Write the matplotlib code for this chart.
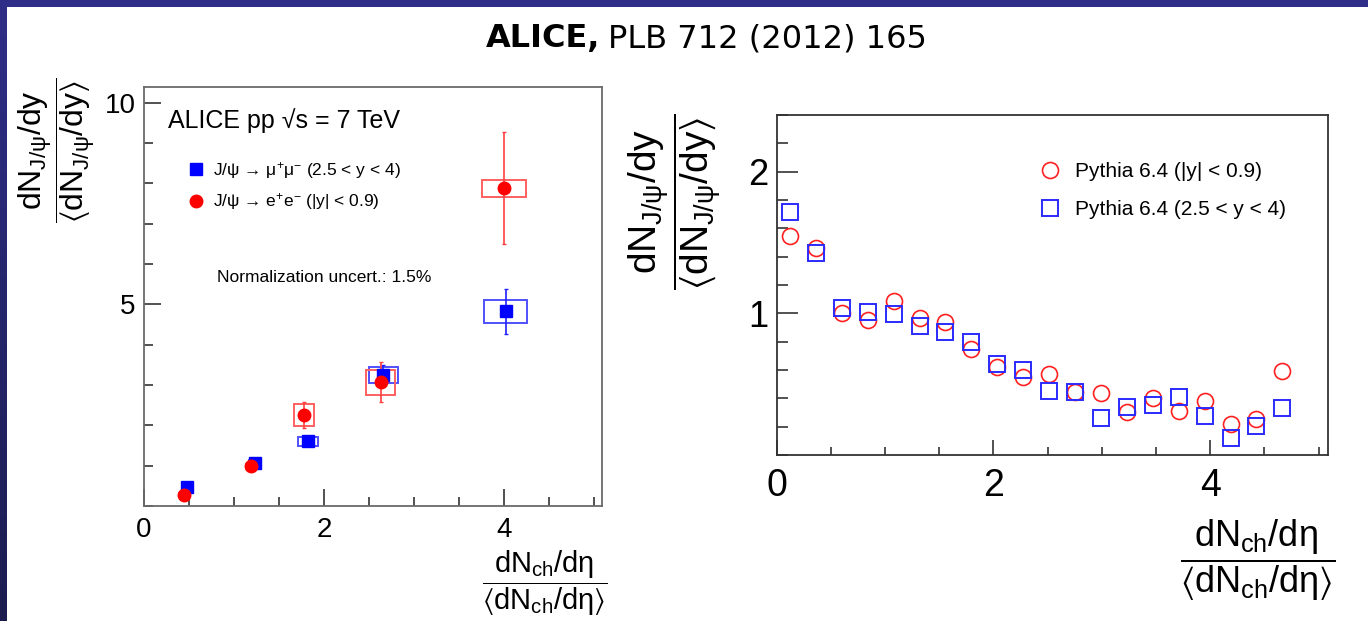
import numpy as np
import matplotlib.pyplot as plt
from matplotlib.patches import Rectangle
from matplotlib.lines import Line2D
from matplotlib.ticker import MultipleLocator, FixedLocator
from matplotlib.colors import LinearSegmentedColormap

plt.rcParams['font.family'] = ['Liberation Sans', 'DejaVu Sans']
plt.rcParams['mathtext.fontset'] = 'custom'
plt.rcParams['mathtext.rm'] = 'Liberation Sans'
plt.rcParams['mathtext.it'] = 'Liberation Sans'
plt.rcParams['mathtext.bf'] = 'Liberation Sans:bold'
plt.rcParams['mathtext.fallback'] = 'stixsans'

# J/psi -> mu+mu- (2.5 < y < 4)
mu_x = [0.48, 1.23, 1.82, 2.66, 4.02]
mu_y = [0.48, 1.07, 1.60, 3.25, 4.83]
mu_stat = [0.05, 0.06, 0.08, 0.25, 0.56]
mu_sys = [0.06, 0.08, 0.115, 0.20, 0.28]
mu_xw = [0.05, 0.06, 0.11, 0.16, 0.24]

# J/psi -> e+e- (|y| < 0.9)
ee_x = [0.44, 1.19, 1.78, 2.63, 4.00]
ee_y = [0.27, 0.98, 2.26, 3.07, 7.88]
ee_stat = [0.05, 0.12, 0.33, 0.49, 1.39]
ee_sys = [0.05, 0.06, 0.27, 0.31, 0.21]
ee_xw = [0.05, 0.06, 0.11, 0.16, 0.24]

# Pythia 6.4 predictions
py_x = [0.12, 0.36, 0.60, 0.84, 1.08, 1.32, 1.55, 1.79, 2.03, 2.27,
        2.51, 2.75, 2.99, 3.23, 3.47, 3.71, 3.95, 4.19, 4.42, 4.66]
py_mid = [1.548, 1.463, 1.005, 0.953, 1.089, 0.969, 0.941, 0.746, 0.623, 0.553,
          0.572, 0.445, 0.435, 0.306, 0.400, 0.313, 0.383, 0.217, 0.252, 0.595]
py_fwd = [1.717, 1.428, 1.040, 1.007, 0.995, 0.910, 0.866, 0.795, 0.642, 0.600,
          0.454, 0.445, 0.261, 0.341, 0.353, 0.409, 0.275, 0.120, 0.207, 0.334]

W, H = 1368, 621
fig = plt.figure(figsize=(W / 100, H / 100), dpi=100)


def fx(px):
    return px / W


def fy(py):
    return 1 - py / H


# slide frame: dark blue bands along top and left edge
bg = fig.add_axes([0, 0, 1, 1], zorder=-5)
bg.axis('off')
grad = np.linspace(0, 1, 256).reshape(-1, 1)
cmap = LinearSegmentedColormap.from_list('slide', ['#2e2e88', '#1c1c50'])
bg.imshow(grad, extent=(0, 7, H, 0), cmap=cmap, aspect='auto')
bg.add_patch(Rectangle((0, 0), W, 7, color='#2e2e88', lw=0))
bg.set_xlim(0, W)
bg.set_ylim(H, 0)

# title
fig.text(fx(600), fy(39), 'ALICE,', family='DejaVu Sans', weight='bold',
         fontsize=23, ha='right', va='center')
fig.text(fx(608), fy(39), 'PLB 712 (2012) 165', family='DejaVu Sans',
         fontsize=23, ha='left', va='center')


def root_axes(ax, frame_color):
    for s in ax.spines.values():
        s.set_color(frame_color)
        s.set_linewidth(1.3)
    ax.tick_params(which='both', direction='in', top=False, right=False,
                   color='#333333', width=1.2)


# ---- left panel: measured yields ----
ax1 = fig.add_axes([fx(144), fy(506), fx(602) - fx(144), fy(87) - fy(506)])
root_axes(ax1, '#6a6a6a')
ax1.set_xlim(0, 5.09)
ax1.set_ylim(0, 10.39)
ax1.xaxis.set_major_locator(FixedLocator([0, 2, 4]))
ax1.xaxis.set_minor_locator(MultipleLocator(0.5))
ax1.yaxis.set_major_locator(FixedLocator([5, 10]))
ax1.yaxis.set_minor_locator(MultipleLocator(1))
ax1.tick_params(which='major', length=12.5, labelsize=20)
ax1.tick_params(axis='x', which='major', pad=8)
ax1.tick_params(axis='y', which='major', pad=6)
ax1.tick_params(which='minor', length=6.5)

for i in range(len(mu_x)):
    ax1.add_patch(Rectangle((mu_x[i] - mu_xw[i], mu_y[i] - mu_sys[i]),
                            2 * mu_xw[i], 2 * mu_sys[i], fill=False,
                            ec='#5050ff', lw=1.4))
for i in range(len(ee_x)):
    ax1.add_patch(Rectangle((ee_x[i] - ee_xw[i], ee_y[i] - ee_sys[i]),
                            2 * ee_xw[i], 2 * ee_sys[i], fill=False,
                            ec='#ff6060', lw=1.4))

ax1.errorbar(mu_x, mu_y, yerr=mu_stat, fmt='s', color='#0000ff', ms=8.6,
             ecolor='#2020ff', elinewidth=1.2, capsize=1.5)
ax1.errorbar(ee_x, ee_y, yerr=ee_stat, fmt='o', color='#ff0000', ms=9,
             ecolor='#ff4040', elinewidth=1.2, capsize=1.5)

fig.text(fx(168), fy(121), 'ALICE pp \u221as = 7 TeV', fontsize=18, va='center')
fig.text(fx(217), fy(277), 'Normalization uncert.: 1.5%', fontsize=12.5, va='center')

h1 = [Line2D([], [], ls='none', marker='s', color='#0000ff', ms=8.6),
      Line2D([], [], ls='none', marker='o', color='#ff0000', ms=9)]
lab1 = ['J/\u03c8 \u2192 \u03bc$^{+}$\u03bc$^{-}$ (2.5 < y < 4)',
        'J/\u03c8 \u2192 e$^{+}$e$^{-}$ (|y| < 0.9)']
fig.legend(h1, lab1, loc='upper left', bbox_to_anchor=(fx(187), fy(160)),
           bbox_transform=fig.transFigure, frameon=False, fontsize=12.5,
           handlelength=1.0, handletextpad=0.48, labelspacing=0.6,
           borderpad=0, borderaxespad=0, numpoints=1)

fig.text(fx(57), fy(150), r'$\dfrac{dN_{J/\psi}/dy}{\langle dN_{J/\psi}/dy\rangle}$',
         rotation=90, ha='center', va='center', fontsize=23)
fig.text(fx(545), fy(583), r'$\dfrac{dN_{ch}/d\eta}{\langle dN_{ch}/d\eta\rangle}$',
         ha='center', va='center', fontsize=21)

# ---- right panel: Pythia ----
ax2 = fig.add_axes([fx(776.7), fy(455), fx(1328.3) - fx(776.7), fy(115) - fy(455)])
root_axes(ax2, '#333333')
ax2.set_xlim(0, 5.09)
ax2.set_ylim(0, 2.4)
ax2.xaxis.set_major_locator(FixedLocator([0, 2, 4]))
ax2.xaxis.set_minor_locator(MultipleLocator(0.5))
ax2.yaxis.set_major_locator(FixedLocator([1, 2]))
ax2.yaxis.set_minor_locator(MultipleLocator(0.2))
ax2.tick_params(axis='x', which='major', length=11, labelsize=27, pad=9)
ax2.tick_params(axis='y', which='major', length=15, labelsize=26, pad=6)
ax2.tick_params(axis='x', which='minor', length=5.5)
ax2.tick_params(axis='y', which='minor', length=8)

ax2.plot(py_x, py_mid, ls='none', marker='o', ms=11.5, mfc='none',
         mec='#ff2020', mew=1.2)
ax2.plot(py_x, py_fwd, ls='none', marker='s', ms=11, mfc='none',
         mec='#2a2aff', mew=1.4)

h2 = [Line2D([], [], ls='none', marker='o', ms=11.5, mfc='none', mec='#ff2020', mew=1.2),
      Line2D([], [], ls='none', marker='s', ms=11, mfc='none', mec='#2a2aff', mew=1.4)]
lab2 = ['Pythia 6.4 (|y| < 0.9)', 'Pythia 6.4 (2.5 < y < 4)']
fig.legend(h2, lab2, loc='upper left', bbox_to_anchor=(fx(1039.6), fy(162)),
           bbox_transform=fig.transFigure, frameon=False, fontsize=15,
           handlelength=1.0, handletextpad=0.7, labelspacing=0.92,
           borderpad=0, borderaxespad=0, numpoints=1)

fig.text(fx(675), fy(202), r'$\dfrac{dN_{J/\psi}/dy}{\langle dN_{J/\psi}/dy\rangle}$',
         rotation=90, ha='center', va='center', fontsize=28)
fig.text(fx(1258), fy(560), r'$\dfrac{dN_{ch}/d\eta}{\langle dN_{ch}/d\eta\rangle}$',
         ha='center', va='center', fontsize=26)

fig.savefig('out.png', dpi=100)
